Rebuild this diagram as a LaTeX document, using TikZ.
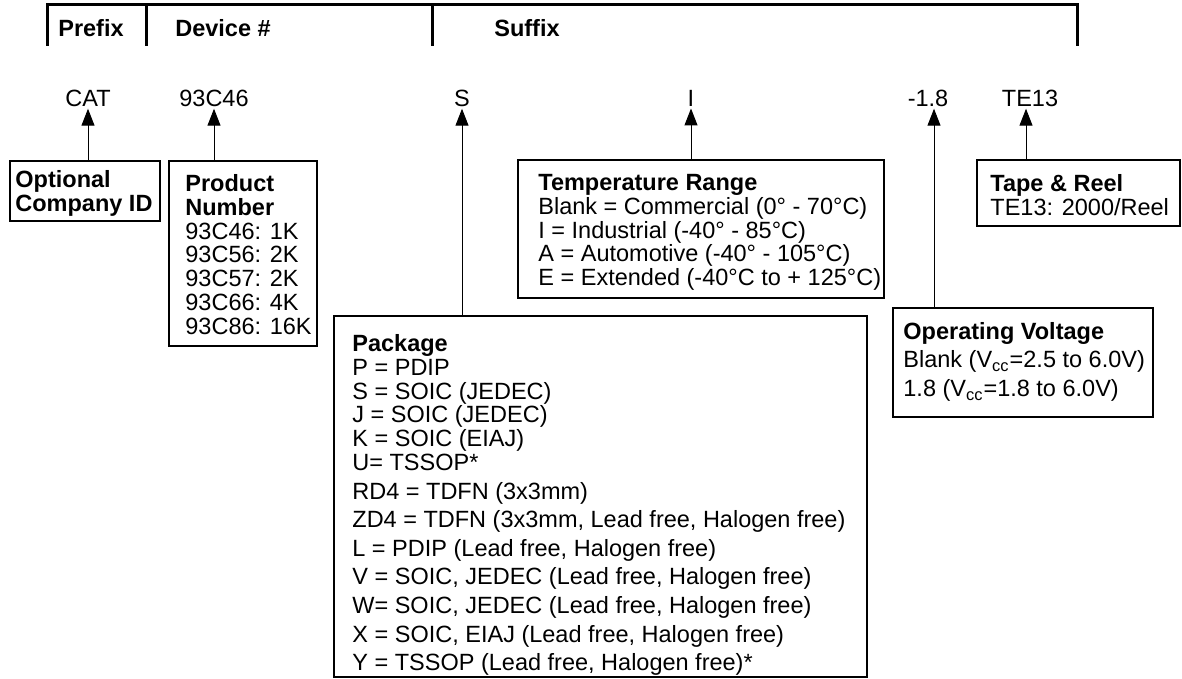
\documentclass[tikz,border=0pt]{standalone}
\usepackage{fontspec}
\setmainfont{Liberation Sans}
\usepackage{tikz}
\usetikzlibrary{arrows.meta}

\begin{document}
\begin{tikzpicture}[
  x=0.5pt, y=-0.5pt,
  every node/.style={font=\fontsize{11.75}{11.9}\selectfont},
  frame/.style={draw, line width=1pt, inner sep=0pt, anchor=north west},
  boxtext/.style={anchor=north west, inner sep=0pt, align=left},
  code/.style={inner sep=1pt},
  header/.style={font=\fontsize{11.75}{11.9}\selectfont\bfseries},
  arrow/.style={-{Triangle[length=8.5pt, width=6.5pt]}, line width=0.5pt}
]
  \useasboundingbox (0,0) rectangle (1182,679);

  % part number fields
  \draw[line width=1.5pt] (47,46) -- (47,5) -- (1077,5) -- (1077,46);
  \draw[line width=1.5pt] (146,5) -- (146,46);
  \draw[line width=1.5pt] (432,5) -- (432,46);
  \node[header] (prefix) at (91,28) {Prefix};
  \node[header] (device) at (223,28) {Device \#};
  \node[header] (suffix) at (527,28) {Suffix};

  % example part number
  \node[code] (cat) at (88,98) {CAT};
  \node[code] (dev) at (214,98) {93C46};
  \node[code] (pack) at (462,98) {S};
  \node[code] (temp) at (691,98) {I};
  \node[code] (volt) at (928,98) {-1.8};
  \node[code] (reel) at (1030,98) {TE13};
  \coordinate (volttip) at ([xshift=3pt]volt.south);
  \coordinate (reeltip) at ([xshift=-2pt]reel.south);

  % boxes
  \node[frame, minimum width=75pt, minimum height=30pt] (coid) at (9,160) {};
  \node[boxtext] (coidtxt) at (15,170) {\textbf{Optional}\\\textbf{Company ID}};

  \node[frame, minimum width=74pt, minimum height=92.5pt] (prod) at (168,160) {};
  \node[boxtext] (prodtxt) at (185,174) {\textbf{Product}\\\textbf{Number}\\93C46: 1K\\93C56: 2K\\93C57: 2K\\93C66: 4K\\93C86: 16K};

  \node[frame, minimum width=183pt, minimum height=69pt] (tempbox) at (517,159) {};
  \node[boxtext] (temptxt) at (538,174) {\textbf{Temperature Range}\\Blank = Commercial (0° - 70°C)\\I = Industrial (-40° - 85°C)\\A = Automotive (-40° - 105°C)\\E = Extended (-40°C to + 125°C)};

  \node[frame, minimum width=101.5pt, minimum height=33pt] (reelbox) at (976,159) {};
  \node[boxtext] (reeltxt) at (990,174) {\textbf{Tape \& Reel}\\TE13: 2000/Reel};

  \node[frame, minimum width=130pt, minimum height=54.5pt] (voltbox) at (892,307) {};
  \node[boxtext] (volttxt) at (903,322) {\textbf{Operating Voltage}\\[2.35pt]Blank (V\textsubscript{cc}=2.5 to 6.0V)\\[2.35pt]1.8 (V\textsubscript{cc}=1.8 to 6.0V)};

  \node[frame, minimum width=266.5pt, minimum height=180.5pt] (packbox) at (333,315) {};
  \node[boxtext] (packtxt) at (352,334) {\textbf{Package}\\P = PDIP\\S = SOIC (JEDEC)\\J = SOIC (JEDEC)\\K = SOIC (EIAJ)\\U= TSSOP*\\[2.4pt]RD4 = TDFN (3x3mm)\\[2.4pt]ZD4 = TDFN (3x3mm, Lead free, Halogen free)\\[2.4pt]L = PDIP (Lead free, Halogen free)\\[2.4pt]V = SOIC, JEDEC (Lead free, Halogen free)\\[2.4pt]W= SOIC, JEDEC (Lead free, Halogen free)\\[2.4pt]X = SOIC, EIAJ (Lead free, Halogen free)\\[2.4pt]Y = TSSOP (Lead free, Halogen free)*};

  \draw[arrow] (coid.north -| cat.south) -- (cat.south);
  \draw[arrow] (prod.north -| dev.south) -- (dev.south);
  \draw[arrow] (packbox.north -| pack.south) -- (pack.south);
  \draw[arrow] (tempbox.north -| temp.south) -- (temp.south);
  \draw[arrow] (voltbox.north -| volttip) -- (volttip);
  \draw[arrow] (reelbox.north -| reeltip) -- (reeltip);
\end{tikzpicture}
\end{document}
